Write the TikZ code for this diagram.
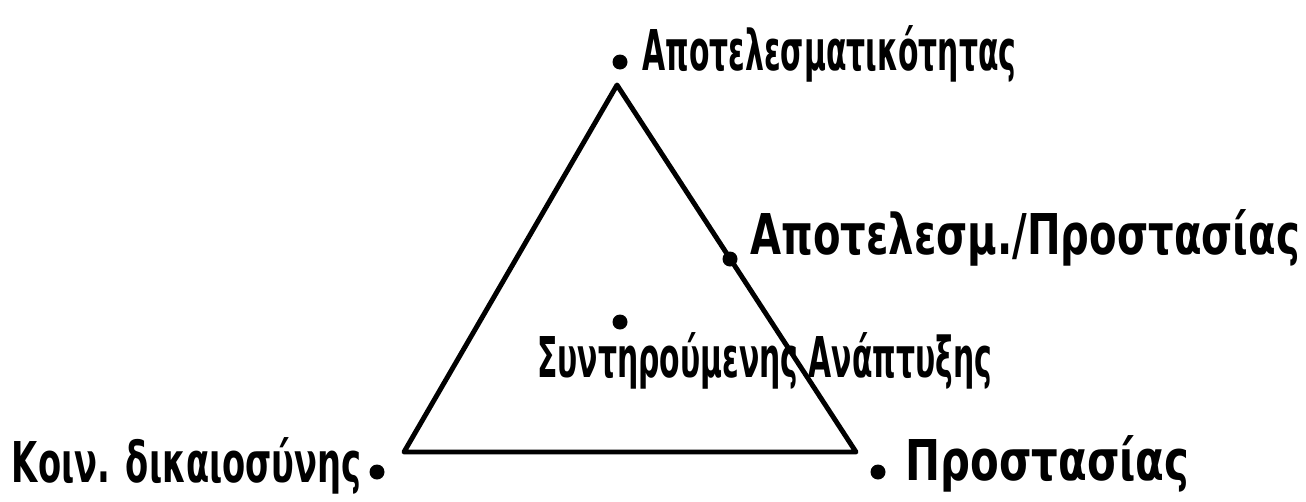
\documentclass[tikz,border=0pt]{standalone}
\usepackage{fontspec}
\usepackage{graphicx}
\newfontfamily\hand[FakeStretch=0.6]{DejaVu Sans Bold}
\usepackage{tikz}
\usetikzlibrary{positioning}
\tikzstyle{pt} = [circle, fill=black, inner sep=0pt, minimum size=0.3cm]
\tikzstyle{lbl} = [inner sep=0pt, font=\hand\fontsize{32}{36}\selectfont]
\tikzstyle{side} = [line width=2.8pt, line join=round]

\begin{document}
\begin{tikzpicture}[x=0.02cm, y=-0.02cm]
\useasboundingbox (0,0) rectangle (1306,501);

% Triangle corners
\coordinate (top) at (617,85);
\coordinate (left) at (404,452);
\coordinate (right) at (856,452);
\draw [side] (top) -- (right) -- (left) -- cycle;

% Points
\node (effdot) [pt] at (620,62) {};
\node (middot) [pt] at (730,259) {};
\node (sustdot) [pt] at (620,322) {};
\node (socdot) [pt] at (377,472) {};
\node (protdot) [pt] at (878,472) {};

% Labels
\node (eff) [lbl, anchor=base west] at (642,70) {\scalebox{0.885}[1]{Αποτελεσματικότητας}};
\node (mid) [lbl, anchor=base west] at (750,254) {\scalebox{1.19}[1]{Αποτελεσμ./Προστασίας}};
\node (sust) [lbl, anchor=base west] at (537,377) {\scalebox{0.885}[1]{Συντηρούμενης Ανάπτυξης}};
\node (soc) [lbl, anchor=base east] at (362,482) {\scalebox{1.0}[1]{Κοιν. δικαιοσύνης}};
\node (prot) [lbl, anchor=base west] at (905,480) {\scalebox{1.24}[1]{Προστασίας}};

\end{tikzpicture}
\end{document}
